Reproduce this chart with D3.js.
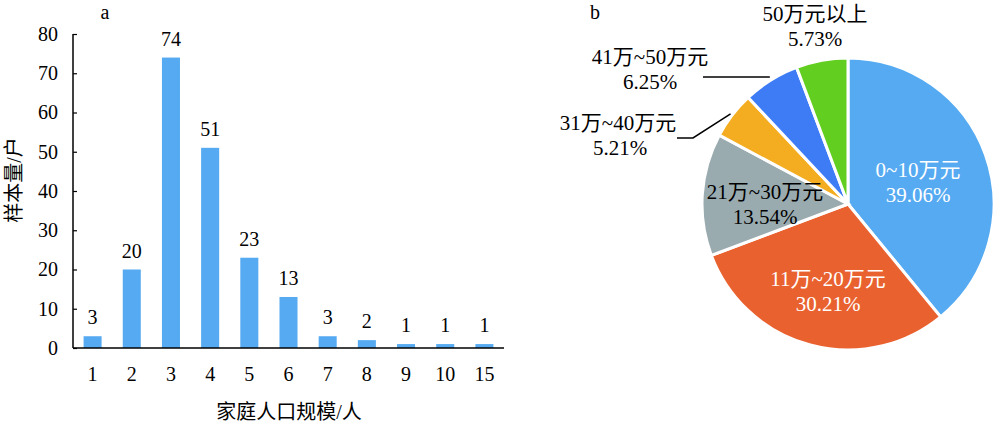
<!DOCTYPE html>
<html><head><meta charset="utf-8">
<script src="https://cdn.jsdelivr.net/npm/d3@7"></script>
<style>body{margin:0;background:#fff}svg{display:block}text{font-family:"Liberation Serif","Noto Sans CJK SC",serif;}</style>
</head><body><svg id="c" width="1000" height="427"></svg>
<script>
const categories = ["1","2","3","4","5","6","7","8","9","10","15"];
const counts = [3,20,74,51,23,13,3,2,1,1,1];
const yTicks = [0,10,20,30,40,50,60,70,80];
const incomeLabels = ["0~10万元","11万~20万元","21万~30万元","31万~40万元","41万~50万元","50万元以上"];
const incomeShares = [39.06,30.21,13.54,5.21,6.25,5.73];
const pieColors = ["#55aaf1","#e9612f","#9aabb0","#f4ad21","#3e7cf6","#62cf20"];

const svg = d3.select("#c");
const fs = 20, pfs = 21;

// ---- Bar chart (a)
const x = d3.scaleBand().domain(categories).range([73,504]).paddingInner(0.54).paddingOuter(0.27);
const y = d3.scaleLinear().domain([0,80]).range([348,34]);
const g = svg.append("g");
g.selectAll("rect").data(counts).join("rect")
  .attr("x",(d,i)=>x(categories[i])).attr("width",x.bandwidth())
  .attr("y",d=>y(d)).attr("height",d=>y(0)-y(d)).attr("fill","#55aaf1");
g.selectAll("text.val").data(counts).join("text").attr("class","val")
  .attr("x",(d,i)=>x(categories[i])+x.bandwidth()/2).attr("y",d=>y(d)-12)
  .attr("text-anchor","middle").attr("font-size",fs).text(d=>d);
const ya = g.append("g").attr("transform","translate(73,0)")
  .call(d3.axisRight(y).tickValues(yTicks).tickSize(4).tickFormat(d3.format("d")));
ya.select(".domain").attr("stroke","#000").attr("stroke-width",1.5).attr("d","M0,34V348");
ya.selectAll(".tick line").attr("stroke","#000").attr("stroke-width",1.2);
ya.selectAll(".tick text").attr("x",-15).attr("text-anchor","end").attr("font-size",fs).attr("fill","#000").attr("font-family",null);
const xa = g.append("g").attr("transform","translate(0,348)")
  .call(d3.axisBottom(x).tickSize(0).tickPadding(0));
xa.select(".domain").attr("stroke","#000").attr("stroke-width",1.5).attr("d","M73,0H504");
xa.selectAll(".tick text").attr("y",26).attr("dy","0.35em").attr("font-size",fs).attr("fill","#000").attr("font-family",null);
g.append("text").attr("transform","translate(14,180) rotate(-90)").attr("text-anchor","middle")
  .attr("dominant-baseline","central").attr("font-size",fs).text("样本量/户");
g.append("text").attr("x",289).attr("y",419).attr("text-anchor","middle").attr("font-size",fs).text("家庭人口规模/人");
svg.append("text").attr("x",105).attr("y",19).attr("text-anchor","middle").attr("font-size",fs).text("a");
svg.append("text").attr("x",595).attr("y",19).attr("text-anchor","middle").attr("font-size",fs).text("b");

// ---- Pie (b)
const cx = 848, cy = 204, R = 146;
const pie = d3.pie().sort(null).value(d=>d)(incomeShares);
const arc = d3.arc().innerRadius(0).outerRadius(R);
const pg = svg.append("g").attr("transform",`translate(${cx},${cy})`);
pg.selectAll("path").data(pie).join("path").attr("d",arc)
  .attr("fill",(d,i)=>pieColors[i]).attr("stroke","#fff").attr("stroke-width",3).attr("stroke-linejoin","miter");

const labelPos = [[918,170,"#fff"],[828,279,"#fff"],[765,192,"#000"],[618,123,"#000"],[650,57,"#000"],[815,14,"#000"]];
labelPos.forEach(([lx,ly,col],i)=>{
  const t = svg.append("text").attr("text-anchor","middle").attr("font-size",pfs).attr("fill",col);
  t.append("tspan").attr("x",lx).attr("y",ly).attr("dy","0.35em").text(incomeLabels[i]);
  t.append("tspan").attr("x",lx + (i===3?2:0)).attr("y",ly+25).attr("dy","0.35em").text(incomeShares[i].toFixed(2)+"%");
});
// leader lines
const mid = d=> (d.startAngle+d.endAngle)/2;
function edge(d, r){const a=mid(d);return [cx+Math.sin(a)*r, cy-Math.cos(a)*r];}
const e3 = edge(pie[3], R+2), e4 = edge(pie[4], R+2);
svg.append("path").attr("fill","none").attr("stroke","#000").attr("stroke-width",1.5)
  .attr("d",`M677,138H693L${e3[0]},${e3[1]}`);
svg.append("path").attr("fill","none").attr("stroke","#000").attr("stroke-width",1.5)
  .attr("d",`M703,77H${e4[0]}`);
</script></body></html>
